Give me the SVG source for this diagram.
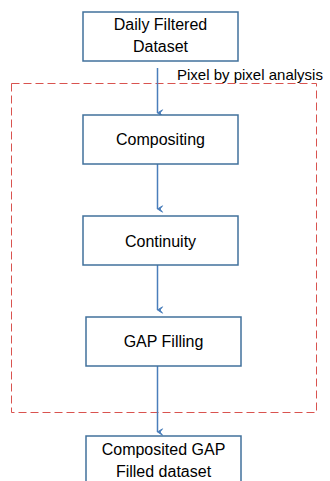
<svg xmlns="http://www.w3.org/2000/svg" width="330" height="481" viewBox="0 0 330 481">
<style>
.box{fill:#fff;stroke:#41719C;stroke-width:1.5}
.t{font-family:"Liberation Sans",Arial,sans-serif;font-size:16px;fill:#000;text-anchor:middle}
.lbl{font-family:"Liberation Sans",Arial,sans-serif;font-size:15px;fill:#000}
.c{stroke:#4A7EBB;stroke-width:1.5;fill:none;marker-end:url(#ah)}
</style>
<defs>
<marker id="ah" markerWidth="8" markerHeight="8" refX="4" refY="6.5" orient="auto" markerUnits="userSpaceOnUse" viewBox="0 0 8 8">
<path d="M0.8,1.5 L4,6.5 L7.2,1.5 L4,4 Z" fill="#4A7EBB" stroke="#4A7EBB" stroke-width="1"/>
</marker>
</defs>
<rect width="330" height="481" fill="#fff"/>
<g id="region">
<rect x="11.5" y="83.5" width="305" height="329" fill="none" stroke="#D9534F" stroke-width="1" stroke-dasharray="8,4"/>
<text class="lbl" x="177" y="80">Pixel by pixel analysis</text>
</g>
<g id="connectors">
<line class="c" x1="157.5" y1="68" x2="157.5" y2="113"/>
<line class="c" x1="157.5" y1="164" x2="157.5" y2="209"/>
<line class="c" x1="157.5" y1="265" x2="157.5" y2="310"/>
<line class="c" x1="157.5" y1="366" x2="157.5" y2="432"/>
</g>
<g id="n1"><rect class="box" x="83" y="12" width="155" height="49"/>
<text class="t" x="160.5" y="30">Daily Filtered</text><text class="t" x="160.5" y="52">Dataset</text></g>
<g id="n2"><rect class="box" x="83" y="115" width="155" height="49"/>
<text class="t" x="160.5" y="145">Compositing</text></g>
<g id="n3"><rect class="box" x="83" y="216" width="155" height="49"/>
<text class="t" x="160.5" y="247">Continuity</text></g>
<g id="n4"><rect class="box" x="86" y="317" width="155" height="49"/>
<text class="t" x="163.5" y="347">GAP Filling</text></g>
<g id="n5"><rect class="box" x="86" y="436" width="155" height="60"/>
<text class="t" x="163.5" y="455">Composited GAP</text><text class="t" x="163.5" y="477">Filled dataset</text></g>
</svg>
